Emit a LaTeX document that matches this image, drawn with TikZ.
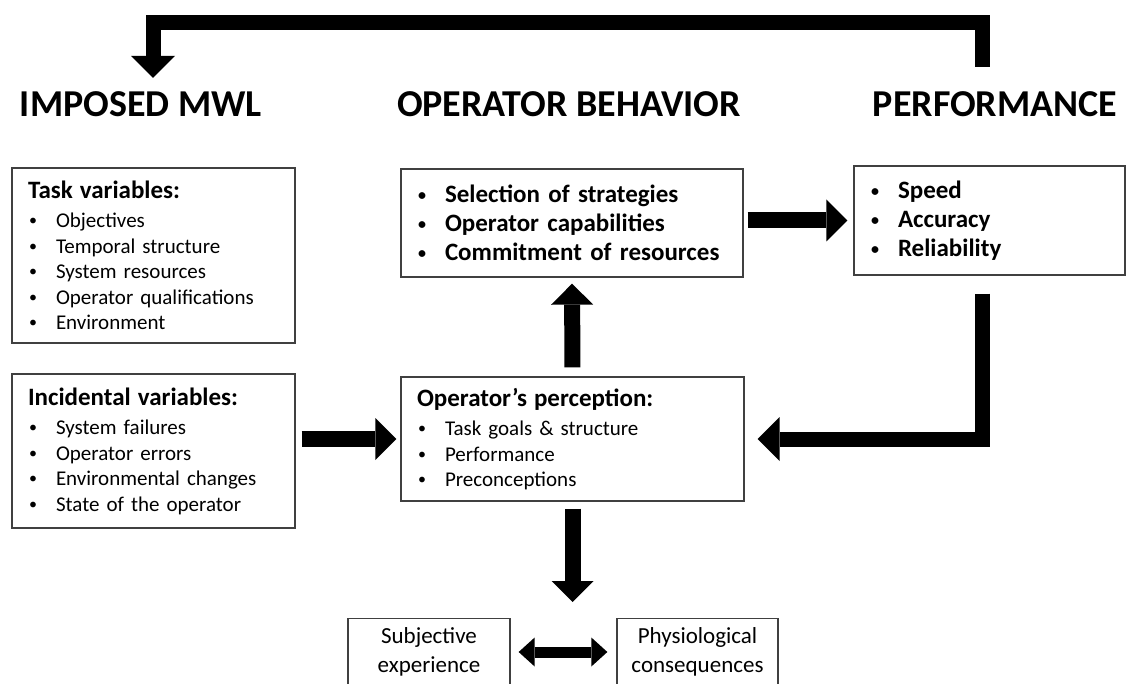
\documentclass[tikz,border=0pt]{standalone}
\usepackage{fontspec}
\setmainfont{Carlito}
\usetikzlibrary{arrows.meta}
\newcommand{\bitem}{\makebox[28pt][l]{\hspace{1pt}\raisebox{2pt}{\fontsize{16}{16}\selectfont\textbullet}}}
\newcommand{\boxtitle}[1]{{\fontsize{25}{30}\selectfont\bfseries #1}}
\tikzset{
  head/.style={font=\fontsize{38}{46}\selectfont\bfseries, inner sep=0pt, anchor=base},
  box/.style={draw=black!75, line width=1.3pt, align=left, inner xsep=16pt, font=\fontsize{21}{25.5}\selectfont},
  boldbox/.style={box, font=\fontsize{25}{29}\selectfont\bfseries},
  smallbox/.style={box, align=center, anchor=north, inner xsep=6pt, inner ysep=9pt, text depth=49pt, font=\fontsize{23}{29}\selectfont},
  fat/.style={line width=16pt, -{Triangle[width=42pt,length=21pt,line width=0pt]}},
  loop/.style={line width=15pt, line join=miter, -{Triangle[width=44pt,length=22pt,line width=0pt]}},
  both/.style={line width=11pt, {Triangle[width=29pt,length=16pt,line width=0pt]}-{Triangle[width=29pt,length=16pt,line width=0pt]}},
}
\begin{document}
\begin{tikzpicture}[x=1pt,y=-1pt]
    \useasboundingbox (0,0) rectangle (1126,684);

    % column heads
    \node[head] (mwl) at (141,117) {IMPOSED MWL};
    \node[head] (behav) at (569,117) {OPERATOR BEHAVIOR};
    \node[head] (perf) at (995,117) {PERFORMANCE};

    % boxes
    \node[box, text width=251pt, minimum height=175pt] (task) at (153.5,255.5)
        {\boxtitle{Task variables:}\\[4pt]
         \bitem Objectives\\ \bitem Temporal structure\\ \bitem System resources\\
         \bitem Operator qualifications\\ \bitem Environment};
    \node[box, text width=251pt, minimum height=154pt] (incid) at (153.5,451)
        {\boxtitle{Incidental variables:}\\[4pt]
         \bitem System failures\\ \bitem Operator errors\\ \bitem Environmental changes\\
         \bitem State of the operator};
    \node[boldbox, text width=310pt, minimum height=108pt] (strat) at (572,223)
        {\bitem Selection of strategies\\ \bitem Operator capabilities\\
         \bitem Commitment of resources};
    \node[boldbox, text width=239pt, minimum height=109pt] (speed) at (989.5,220.5)
        {\bitem Speed\\ \bitem Accuracy\\ \bitem Reliability};
    \node[box, text width=311pt, minimum height=124pt] (percep) at (572.5,439)
        {\boxtitle{Operator’s perception:}\\[4pt]
         \bitem Task goals \& structure\\ \bitem Performance\\ \bitem Preconceptions};
    \node[smallbox, text width=150pt] (subj) at (429,618) {Subjective\\experience};
    \node[smallbox, text width=149pt] (phys) at (697.5,618) {Physiological\\consequences};

    % arrows
    \draw[fat, shorten <=4pt, shorten >=6pt] (strat.east |- speed.west) -- (speed.west);
    \draw[fat, shorten <=6pt, shorten >=4pt] (incid.east |- percep.west) -- (percep.west);
    \draw[fat, shorten <=9pt, shorten >=6pt] (percep.north) -- (strat.south);
    \coordinate (gap) at (percep.south |- subj.north);
    \draw[fat, shorten <=7pt, shorten >=16pt] (percep.south) -- (gap);
    \draw[both, shorten <=8pt, shorten >=9pt] ([yshift=-34pt]subj.north east) -- ([yshift=-34pt]phys.north west);

    % feedback loops
    \coordinate (fbtop) at ([xshift=-7pt,yshift=-18pt]speed.south);
    \draw[loop, shorten >=13pt] (fbtop) |- (percep.east);
    \coordinate (upstart) at ([xshift=-13pt,yshift=25pt]perf.north);
    \coordinate (upend) at ([xshift=12pt,yshift=14pt]mwl.north);
    \draw[loop] (upstart) -- ++(0,-44.5) -| (upend);
\end{tikzpicture}
\end{document}
